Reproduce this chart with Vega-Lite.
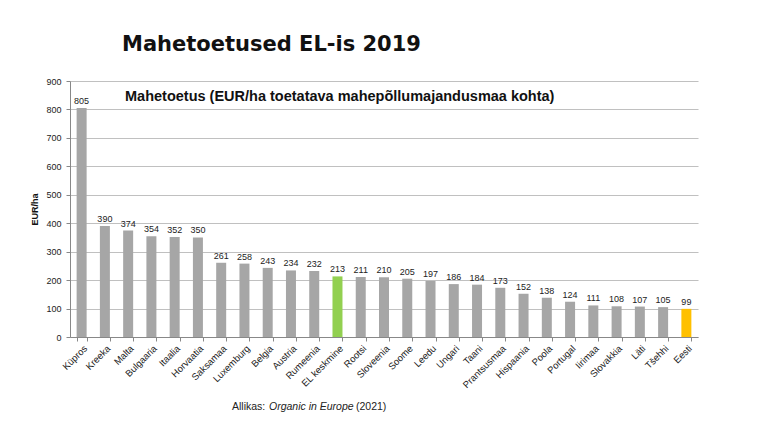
{
  "$schema": "https://vega.github.io/schema/vega-lite/v6.json",
  "width": 628,
  "height": 256,
  "autosize": "none",
  "padding": {"left": 70, "top": 81, "right": 70, "bottom": 95},
  "background": "white",
  "config": {"view": {"stroke": null}, "font": "Liberation Sans"},
  "data": {
    "values": [
      {"riik": "Küpros", "v": 805, "t": "muu"},
      {"riik": "Kreeka", "v": 390, "t": "muu"},
      {"riik": "Malta", "v": 374, "t": "muu"},
      {"riik": "Bulgaaria", "v": 354, "t": "muu"},
      {"riik": "Itaalia", "v": 352, "t": "muu"},
      {"riik": "Horvaatia", "v": 350, "t": "muu"},
      {"riik": "Saksamaa", "v": 261, "t": "muu"},
      {"riik": "Luxemburg", "v": 258, "t": "muu"},
      {"riik": "Belgia", "v": 243, "t": "muu"},
      {"riik": "Austria", "v": 234, "t": "muu"},
      {"riik": "Rumeenia", "v": 232, "t": "muu"},
      {"riik": "EL keskmine", "v": 213, "t": "EL"},
      {"riik": "Rootsi", "v": 211, "t": "muu"},
      {"riik": "Sloveenia", "v": 210, "t": "muu"},
      {"riik": "Soome", "v": 205, "t": "muu"},
      {"riik": "Leedu", "v": 197, "t": "muu"},
      {"riik": "Ungari", "v": 186, "t": "muu"},
      {"riik": "Taani", "v": 184, "t": "muu"},
      {"riik": "Prantsusmaa", "v": 173, "t": "muu"},
      {"riik": "Hispaania", "v": 152, "t": "muu"},
      {"riik": "Poola", "v": 138, "t": "muu"},
      {"riik": "Portugal", "v": 124, "t": "muu"},
      {"riik": "Iirimaa", "v": 111, "t": "muu"},
      {"riik": "Slovakkia", "v": 108, "t": "muu"},
      {"riik": "Läti", "v": 107, "t": "muu"},
      {"riik": "Tšehhi", "v": 105, "t": "muu"},
      {"riik": "Eesti", "v": 99, "t": "Eesti"}
    ]
  },
  "encoding": {
    "x": {
      "field": "riik",
      "type": "nominal",
      "sort": null,
      "scale": {"paddingInner": 0.57, "paddingOuter": 0.285},
      "axis": {
        "title": null,
        "labelAngle": -45,
        "labelAlign": "right",
        "labelBaseline": "top",
        "labelFontSize": 9.5,
        "labelColor": "#222",
        "tickBand": "extent",
        "domainColor": "#888",
        "tickColor": "#888",
        "tickSize": 4,
        "labelPadding": 2
      }
    },
    "y": {
      "field": "v",
      "type": "quantitative",
      "scale": {"domain": [0, 900]},
      "axis": {
        "title": "EUR/ha",
        "titleFontSize": 9,
        "titleFontWeight": "bold",
        "titleColor": "#111",
        "titlePadding": 6,
        "values": [0, 100, 200, 300, 400, 500, 600, 700, 800, 900],
        "labelFontSize": 9,
        "labelColor": "#222",
        "labelPadding": 5,
        "gridColor": "#c0c0c0",
        "gridWidth": 1.2,
        "domainColor": "#888",
        "tickColor": "#888",
        "tickSize": 4
      }
    }
  },
  "layer": [
    {
      "mark": {"type": "bar"},
      "encoding": {
        "color": {
          "field": "t",
          "type": "nominal",
          "scale": {"domain": ["muu", "EL", "Eesti"], "range": ["#a6a6a6", "#92d050", "#ffc000"]},
          "legend": null
        }
      }
    },
    {
      "mark": {"type": "text", "dy": -7, "fontSize": 9, "color": "#222"},
      "encoding": {"text": {"field": "v", "type": "quantitative"}}
    },
    {
      "data": {"values": [{"s": "Mahetoetused EL-is 2019"}]},
      "mark": {"type": "text", "font": "DejaVu Sans", "fontWeight": "bold", "fontSize": 21, "align": "left", "baseline": "middle", "color": "#111"},
      "encoding": {"x": {"value": 52}, "y": {"value": -36}, "text": {"field": "s"}}
    },
    {
      "data": {"values": [{"s": "Mahetoetus (EUR/ha toetatava mahepõllumajandusmaa kohta)"}]},
      "mark": {"type": "text", "fontWeight": "bold", "fontSize": 14.5, "align": "left", "baseline": "middle", "color": "#111"},
      "encoding": {"x": {"value": 55}, "y": {"value": 16}, "text": {"field": "s"}}
    },
    {
      "data": {"values": [{"s": "Allikas:"}]},
      "mark": {"type": "text", "fontSize": 10.5, "align": "left", "baseline": "middle", "color": "#222"},
      "encoding": {"x": {"value": 162}, "y": {"value": 326}, "text": {"field": "s"}}
    },
    {
      "data": {"values": [{"s": "Organic in Europe"}]},
      "mark": {"type": "text", "fontSize": 10.5, "fontStyle": "italic", "align": "left", "baseline": "middle", "color": "#222"},
      "encoding": {"x": {"value": 199}, "y": {"value": 326}, "text": {"field": "s"}}
    },
    {
      "data": {"values": [{"s": "(2021)"}]},
      "mark": {"type": "text", "fontSize": 10.5, "align": "left", "baseline": "middle", "color": "#222"},
      "encoding": {"x": {"value": 286}, "y": {"value": 326}, "text": {"field": "s"}}
    }
  ]
}
